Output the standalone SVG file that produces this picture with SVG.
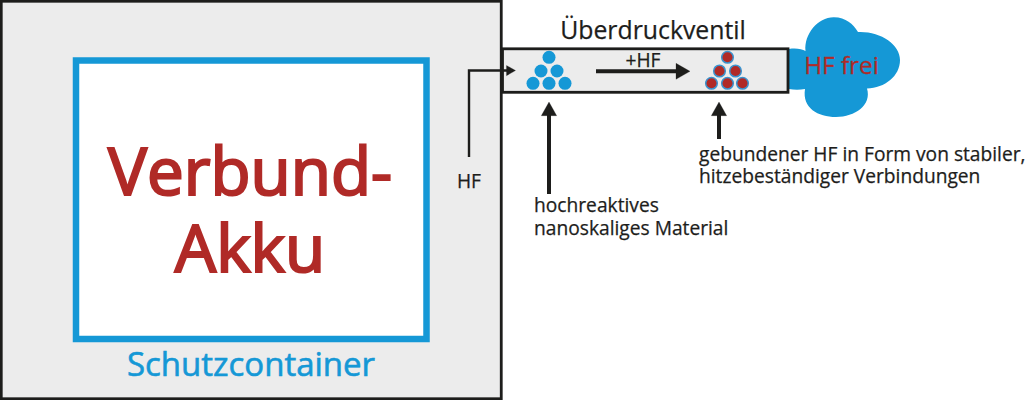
<svg xmlns="http://www.w3.org/2000/svg" width="1030" height="400" viewBox="0 0 1030 400">
<style>
text{font-family:"Open Sans","Noto Sans",sans-serif}
.k{fill:#1d1d1b;stroke:#1d1d1b;stroke-width:.25}
.r{fill:#b02a27;stroke:#b02a27}
.b{fill:#1598d6}
.lbl{font-size:19.200px;fill:#1d1d1b;stroke:#1d1d1b;stroke-width:.25}
.ln{fill:none;stroke:#1d1d1b}
.dr{fill:#b02a27;stroke:#3a93cf;stroke-width:1.500}
</style>
<defs>
<g id="blueDots" class="b"><circle cx="0" cy="-18.200" r="6.500"/><circle cx="-8" cy="-4.500" r="6.500"/><circle cx="8" cy="-4.500" r="6.500"/><circle cx="-16" cy="7.800" r="6.500"/><circle cx="0" cy="7.800" r="6.500"/><circle cx="16" cy="7.800" r="6.500"/></g>
<g id="redDots"><circle class="dr" cx="0" cy="-18.200" r="5.800"/><circle class="dr" cx="-8" cy="-4.500" r="5.800"/><circle class="dr" cx="8" cy="-4.500" r="5.800"/><circle class="dr" cx="-16" cy="7.800" r="5.800"/><circle class="dr" cx="0" cy="7.800" r="5.800"/><circle class="dr" cx="15" cy="7.800" r="5.800"/></g>
</defs>
<g id="schutzcontainer">
<rect x="1.250" y="1.250" width="500" height="397.500" fill="#ececec" stroke="#1d1d1b" stroke-width="2.800"/>
<text x="251" y="376" text-anchor="middle" font-size="33" stroke="#1598d6" stroke-width=".6" class="b">Schutzcontainer</text>
</g>
<g id="verbund-akku">
<rect x="76" y="60.500" width="350.500" height="278.500" fill="#fff" stroke="#1598d6" stroke-width="6.500"/>
<text x="250" y="195" text-anchor="middle" font-size="65.500" stroke-width="2.200" class="r">Verbund-</text>
<text x="250" y="272" text-anchor="middle" font-size="65.500" stroke-width="2.200" class="r">Akku</text>
</g>
<g id="hf-wolke">
<path class="b" d="M789 49C796 48 802 49 805.500 51C804 34 818 17 834 17.300C846 17.500 853 24 858 32C880 31 900 44 900 60C900 76 885 88 867 88.500C872 105 855 117 836 117C818 117 802 108 805 89C800 90 794 90 789 89Z"/>
<text x="841.500" y="73.500" text-anchor="middle" font-size="24.300" stroke-width=".3" class="r">HF frei</text>
</g>
<g id="ueberdruckventil">
<rect x="502.500" y="48.800" width="285.500" height="43.500" fill="#ececec" stroke="#1d1d1b" stroke-width="2.800"/>
<text x="653" y="38.500" text-anchor="middle" font-size="24.800" class="k">Überdruckventil</text>
</g>
<g id="material-frei"><use href="#blueDots" x="549" y="75.500"/></g>
<g id="material-gebunden"><use href="#redDots" x="727.500" y="75.500"/></g>
<g id="connectors">
<path class="ln" stroke-width="2.400" d="M469 157V70.500H507"/>
<path class="k" d="M506.500 65.500 515.500 70.500 506.500 75.700Z"/>
<path class="ln" stroke-width="4" d="M596 71.300H677"/>
<path class="k" d="M676 63.300 690 71.300 676 79.300Z"/>
<path class="ln" stroke-width="4" d="M549 114V194"/>
<path class="k" d="M549 102 556.700 115.700H541.300Z"/>
<path class="ln" stroke-width="4" d="M719 114V139"/>
<path class="k" d="M719 102 726.700 115.700H711.300Z"/>
</g>
<g id="labels">
<text x="469" y="188" text-anchor="middle" class="lbl">HF</text>
<text x="643" y="67" text-anchor="middle" class="lbl">+HF</text>
<text x="534" y="212" class="lbl">hochreaktives</text>
<text x="534" y="235" class="lbl">nanoskaliges Material</text>
<text x="699" y="161" class="lbl">gebundener HF in Form von stabiler,</text>
<text x="699" y="183" class="lbl">hitzebeständiger Verbindungen</text>
</g>
</svg>
